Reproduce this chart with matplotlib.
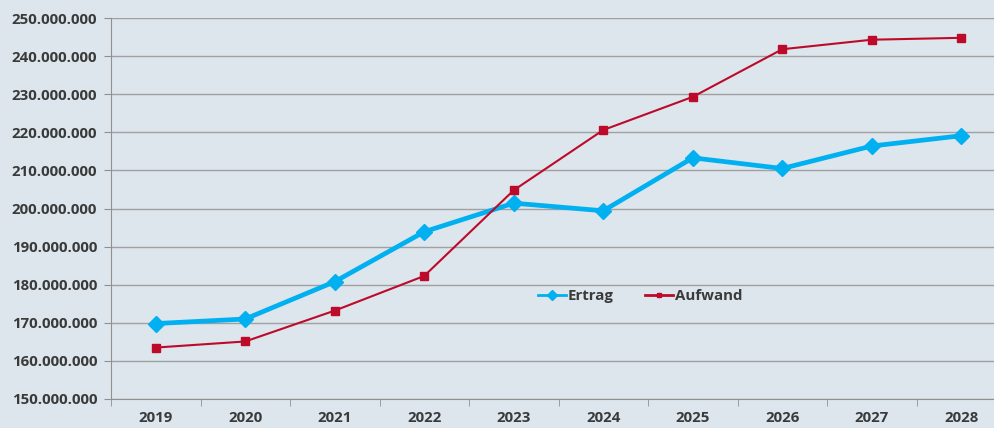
import matplotlib
matplotlib.use("Agg")
import matplotlib.pyplot as plt
from matplotlib.ticker import FuncFormatter, FixedLocator
import numpy as np

years = ["2019", "2020", "2021", "2022", "2023", "2024", "2025", "2026", "2027", "2028"]
ertrag = [169.8, 171.0, 180.8, 193.9, 201.4, 199.4, 213.3, 210.5, 216.4, 219.1]
aufwand = [163.5, 165.1, 173.2, 182.3, 204.8, 220.6, 229.3, 241.8, 244.3, 244.8]
ertrag = [v * 1e6 for v in ertrag]
aufwand = [v * 1e6 for v in aufwand]

bg = "#dce6ec"
txt = "#3a3a3a"
plt.rcParams['font.family'] = ['Open Sans', 'DejaVu Sans']

fig = plt.figure(figsize=(9.95, 4.28), dpi=100, facecolor=bg)
ax = fig.add_axes([111/995, 29/428, (1006-111)/995, (399-18)/428])
ax.set_facecolor(bg)

x = np.arange(len(years))
ax.plot(x, ertrag, color="#00b0f0", lw=3.4, marker="D", markersize=8.5, label="Ertrag", zorder=3)
ax.plot(x, aufwand, color="#be0a2a", lw=1.5, marker="s", markersize=5.5, label="Aufwand", zorder=3)

ax.set_xlim(-0.5, len(years) - 0.5)
ax.set_ylim(150e6, 250e6)
ax.set_yticks(np.arange(150e6, 250e6 + 1, 10e6))
ax.yaxis.set_major_formatter(FuncFormatter(lambda v, p: f"{int(round(v)):,}".replace(",", ".")))
ax.set_xticks(x)
ax.set_xticklabels(years)
ax.xaxis.set_minor_locator(FixedLocator(np.arange(-0.5, len(years), 1.0)))
ax.tick_params(axis='x', which='major', length=0, pad=9, labelsize=10.8, labelcolor=txt)
ax.tick_params(axis='x', which='minor', length=5, color="#909090")
ax.tick_params(axis='y', length=5, color="#909090", labelsize=10.8, labelcolor=txt, pad=5)
for lab in ax.get_xticklabels() + ax.get_yticklabels():
    lab.set_fontweight("bold")

ax.grid(axis='y', color="#a0a0a0", lw=1.0)
ax.set_axisbelow(True)
for s in ["top", "right"]:
    ax.spines[s].set_visible(False)
ax.spines["left"].set_color("#909090")
ax.spines["bottom"].set_color("#909090")

leg = ax.legend(loc="center", bbox_to_anchor=(0.591, 0.27), ncol=2, frameon=False,
                handlelength=1.9, columnspacing=2.1, handletextpad=0.1,
                prop={"weight": "bold", "size": 10.8}, markerscale=0.6)
for t in leg.get_texts():
    t.set_color(txt)
for h in leg.legend_handles:
    h.set_linewidth(2.0)

fig.savefig("out.png", dpi=100, facecolor=bg)
